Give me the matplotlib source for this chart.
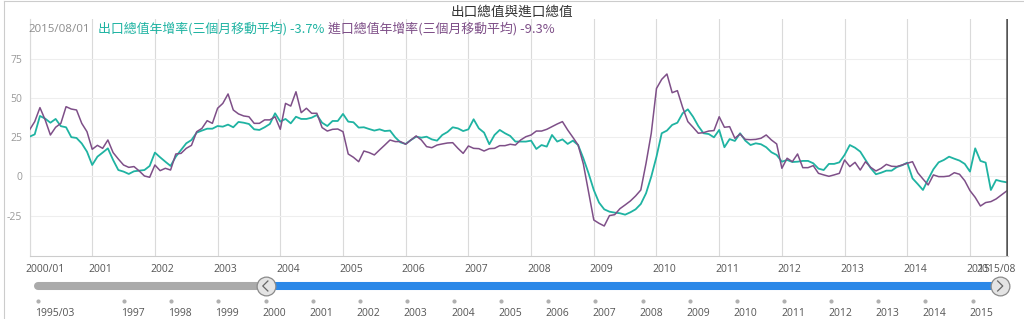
import numpy as np
import matplotlib
matplotlib.use('Agg')
import matplotlib.pyplot as plt
import matplotlib.transforms as mtransforms

# 폰트
cjk = ['Noto Sans CJK TC', 'DejaVu Sans']
num_font = ['Open Sans', 'DejaVu Sans']

# 2000/01 ~ 2015/08 월별 데이터 (%)
export_growth = [
    25.3, 26.8, 38.5, 36.8, 34.2, 36.6, 32.0, 31.3, 25.0, 24.5, 21.0, 15.8,
    7.3, 12.6, 15.2, 17.9, 10.5, 4.1, 3.1, 1.6, 3.3, 3.7, 4.1, 6.7,
    15.2, 12.2, 9.4, 6.7, 12.6, 16.9, 21.1, 23.2, 27.9, 29.2, 30.4, 30.4,
    32.1, 31.7, 33.0, 31.3, 34.7, 34.2, 33.4, 30.0, 29.6, 31.3, 33.4, 40.2,
    34.9, 36.6, 33.8, 38.0, 36.6, 36.6, 37.4, 39.1, 34.2, 32.1, 35.3, 35.3,
    39.8, 34.9, 34.5, 31.1, 31.3, 30.2, 29.2, 30.0, 28.9, 29.2, 24.9, 21.7,
    20.7, 23.2, 25.3, 24.7, 25.3, 23.6, 22.8, 26.4, 28.3, 31.3, 30.6, 28.9,
    30.0, 36.4, 30.6, 27.9, 20.5, 26.4, 29.6, 27.5, 25.8, 22.2, 22.2, 22.2,
    22.8, 17.5, 20.0, 19.0, 26.4, 22.2, 23.6, 20.7, 22.8, 20.0, 11.6, 2.0,
    -8.6, -16.6, -20.9, -22.4, -23.0, -23.4, -24.3, -22.8, -20.9, -17.5, -10.7, -0.1,
    12.6, 27.5, 29.2, 32.8, 34.2, 40.2, 42.7, 38.0, 32.1, 27.5, 27.0, 24.9,
    29.6, 18.6, 23.8, 22.6, 27.5, 22.8, 20.0, 21.1, 20.5, 18.6, 15.4, 13.7,
    9.4, 10.5, 9.2, 9.4, 9.9, 9.9, 8.4, 5.0, 4.1, 8.0, 8.0, 9.0,
    13.7, 20.0, 18.3, 15.8, 10.5, 5.3, 1.4, 2.4, 3.7, 3.7, 6.0, 7.1,
    8.8, -1.2, -4.8, -8.6, -1.8, 4.6, 9.0, 10.5, 12.6, 11.3, 10.1, 8.0,
    3.1, 17.9, 9.9, 8.8, -8.6, -2.2, -3.1, -3.7,
]
import_growth = [
    29.6, 34.9, 43.8, 36.0, 26.4, 31.3, 33.8, 44.4, 42.9, 42.3, 33.8, 28.5,
    17.3, 19.8, 17.9, 23.2, 15.2, 11.1, 7.3, 5.8, 6.3, 3.5, 0.3, -0.5,
    7.3, 3.7, 5.2, 4.1, 14.3, 14.7, 17.9, 19.8, 28.5, 30.6, 35.5, 33.8,
    43.4, 46.5, 52.5, 42.3, 39.8, 38.5, 38.0, 33.8, 33.8, 36.0, 36.0, 38.0,
    30.0, 46.5, 44.8, 53.9, 40.6, 43.4, 40.2, 40.2, 31.1, 28.9, 30.0, 30.2,
    28.5, 14.3, 12.2, 9.4, 16.2, 15.2, 13.7, 16.9, 20.0, 23.2, 22.2, 22.2,
    20.5, 23.2, 25.8, 23.2, 19.0, 18.3, 20.0, 20.7, 21.3, 21.5, 17.9, 14.7,
    19.4, 17.9, 17.7, 16.2, 17.7, 17.9, 19.6, 19.6, 20.5, 20.0, 23.2, 25.3,
    26.4, 28.9, 28.9, 30.0, 31.7, 33.4, 34.9, 29.6, 24.9, 20.0, 8.0, -10.0,
    -27.7, -29.8, -31.5, -24.9, -24.3, -20.5, -18.1, -15.6, -12.4, -8.6, 8.4, 27.5,
    56.0, 61.8, 65.2, 53.3, 54.6, 44.0, 34.9, 31.3, 27.5, 27.9, 28.9, 29.2,
    38.0, 31.3, 31.7, 24.3, 27.0, 23.6, 23.4, 23.6, 24.3, 26.4, 23.2, 20.7,
    5.2, 11.6, 9.4, 14.3, 5.6, 5.6, 6.9, 2.0, 1.0, 0.1, 1.0, 2.0,
    10.5, 6.3, 9.0, 4.1, 9.4, 5.8, 3.5, 5.2, 7.7, 6.5, 6.3, 7.3,
    8.4, 9.4, 2.4, -1.6, -5.4, 1.0, -0.1, -0.1, 0.3, 2.4, 1.4, -2.7,
    -9.0, -13.3, -18.8, -16.6, -16.0, -14.3, -11.8, -9.3,
]

x_labels = ['2000/01'] + [str(y) for y in range(2001, 2016)] + ['2015/08']
y_ticks = [-25, 0, 25, 50, 75]
nav_labels = ['1995/03'] + [str(y) for y in range(1997, 2016)]

title = '出口總值與進口總值'
date_text = '2015/08/01'
export_name = '出口總值年增率(三個月移動平均)'
import_name = '進口總值年增率(三個月移動平均)'

teal = '#1fb3a2'
purple = '#7e4f88'
blue = '#2b88e8'


def to_month(label):
    # '2000/01' 기준 월 인덱스
    parts = label.split('/')
    m = int(parts[1]) - 1 if len(parts) > 1 else 0
    return (int(parts[0]) - 2000) * 12 + m


W, H = 1024, 319
fig = plt.figure(figsize=(W / 100, H / 100), dpi=100)
renderer = fig.canvas.get_renderer()


def fx(px):
    return px / W


def fy(py):
    return 1 - py / H


def fit_width(t, target_px):
    # 텍스트 폭을 원본 픽셀 폭에 맞춤
    w = t.get_window_extent(renderer).width
    t.set_fontsize(t.get_fontsize() * target_px / w)


# 메인 차트
ax = fig.add_axes([fx(29.5), fy(256), (1007.6 - 29.5) / W, (256 - 19.3) / H])
months = np.arange(len(export_growth))
ax.plot(months, export_growth, color=teal, lw=1.3, zorder=3)
ax.plot(months, import_growth, color=purple, lw=1.1, zorder=4)
ax.set_xlim(0, 187.2)
ax.set_ylim(-50.6, 100)

tick_pos = [to_month(l) for l in x_labels[:-1]]
ax.set_xticks(tick_pos)
ax.set_xticklabels([])
ax.set_yticks(y_ticks)
ax.set_yticklabels([str(v) for v in y_ticks], color='#999999', fontsize=7.5, family=num_font)
ax.tick_params(axis='both', length=0)
ax.tick_params(axis='y', pad=5.4)
ax.xaxis.grid(True, color='#dadada', lw=0.8)
ax.yaxis.grid(True, color='#eeeeee', lw=0.8)
ax.set_axisbelow(True)
for s in ['top', 'right']:
    ax.spines[s].set_visible(False)
ax.spines['left'].set_color('#dadada')
ax.spines['bottom'].set_color('#cccccc')
ax.axvline(len(export_growth) - 1, color='#555555', lw=1.8, zorder=5)

# x축 라벨
tr = mtransforms.blended_transform_factory(ax.transData, fig.transFigure)
for l in x_labels[:-1]:
    ax.text(to_month(l), fy(269.5), l, transform=mtransforms.offset_copy(tr, fig, x=-4, units='dots'),
            ha='left', va='center', fontsize=7.5, color='#555555', family=num_font)
ax.text(to_month(x_labels[-1]), fy(269.5), x_labels[-1],
        transform=mtransforms.offset_copy(tr, fig, x=9, units='dots'),
        ha='right', va='center', fontsize=7.5, color='#555555', family=num_font)

# 제목, 부제
t = fig.text(0.5, fy(12), title, ha='center', va='center', fontsize=9.5, color='#333333', family=cjk)
fit_width(t, 123)
t = fig.text(fx(28.7), fy(29), date_text, ha='left', va='center', fontsize=7.8, color='#8c8c8c', family=num_font)
fit_width(t, 61)
t = fig.text(fx(97.6), fy(29), export_name + ' %.1f%%' % export_growth[-1], ha='left', va='center',
             fontsize=8.2, color=teal, family=cjk)
fit_width(t, 227)
t = fig.text(fx(328), fy(29), import_name + ' %.1f%%' % import_growth[-1], ha='left', va='center',
             fontsize=8.2, color=purple, family=cjk)
fit_width(t, 227)

# 네비게이터
nav_start, nav_end = to_month(nav_labels[0]), len(export_growth) - 1
ppm = (1000 - 37.7) / (nav_end - nav_start)
nx0 = nav_start - (37.7 - 15) / ppm
nx1 = nav_end + (1018 - 1000) / ppm
ax2 = fig.add_axes([fx(15), 0, (1018 - 15) / W, (H - 272) / H])
ax2.set_xlim(nx0, nx1)
ax2.set_ylim(H, 272)
ax2.axis('off')
ax2.plot([nav_start, 0], [286, 286], color='#aaaaaa', lw=5.8, solid_capstyle='round')
ax2.plot([0, nav_end], [286, 286], color=blue, lw=5.8, solid_capstyle='round')
for m, d in [(0, 1), (nav_end, -1)]:
    ax2.plot(m, 286, 'o', ms=13.5, mfc='#e4e4e4', mec='#8a8a8a', mew=0.9, zorder=5)
    ax2.plot([m + d * 0.6, m - d * 0.7, m + d * 0.6], [281, 286, 291], color='#666666', lw=0.9, zorder=6)
nav_pos = [to_month(l) for l in nav_labels]
ax2.scatter(nav_pos, [300.5] * len(nav_pos), s=9, color='#b0b0b0', lw=0)
for l, m in zip(nav_labels, nav_pos):
    ax2.text(m, 313, l, transform=mtransforms.offset_copy(ax2.transData, fig, x=-3, units='dots'),
             ha='left', va='center', fontsize=7.5, color='#555555', family=num_font)

# 테두리
fig.add_artist(plt.Line2D([fx(3.5), fx(3.5)], [0, fy(1)], color='#cccccc', lw=0.8))
fig.add_artist(plt.Line2D([fx(3.5), 1], [fy(1), fy(1)], color='#cccccc', lw=0.8))

fig.savefig('out.png', dpi=100)
